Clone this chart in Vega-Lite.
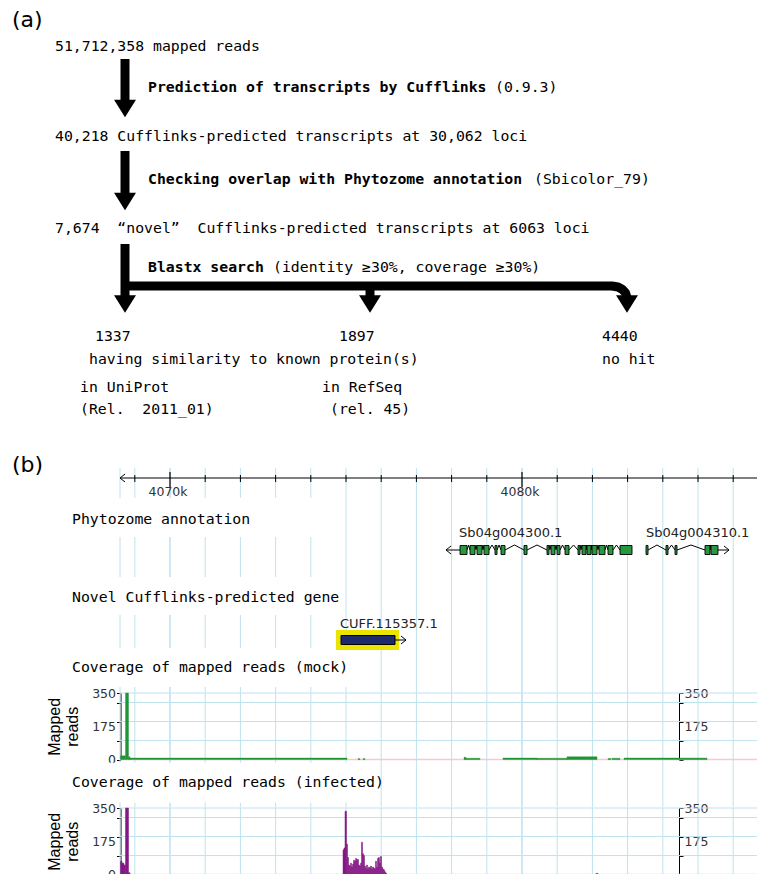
{
  "$schema": "https://vega.github.io/schema/vega-lite/v6.json",
  "background": "white",
  "padding": 0,
  "spacing": 0,
  "bounds": "flush",
  "resolve": {"scale": {"x": "independent", "y": "independent", "color": "independent"}},
  "config": {"view": {"stroke": null}},
  "datasets": {
    "ticks": [
      {"kb": 4068.58, "k": "border"}, {"kb": 4069, "k": "minor"}, {"kb": 4070, "k": "major"}, {"kb": 4071, "k": "minor"},
      {"kb": 4072, "k": "minor"}, {"kb": 4073, "k": "minor"}, {"kb": 4074, "k": "minor"}, {"kb": 4075, "k": "minor"},
      {"kb": 4076, "k": "minor"}, {"kb": 4077, "k": "minor"}, {"kb": 4078, "k": "minor"}, {"kb": 4079, "k": "minor"},
      {"kb": 4080, "k": "major"}, {"kb": 4081, "k": "minor"}, {"kb": 4082, "k": "minor"}, {"kb": 4083, "k": "minor"},
      {"kb": 4084, "k": "minor"}, {"kb": 4085, "k": "minor"}, {"kb": 4086, "k": "minor"}
    ],
    "hgrid": [{"r": 100}, {"r": 200}, {"r": 300}, {"r": 350}],
    "mock": [
      {"s": 4068.594, "e": 4068.736, "r": 20}, {"s": 4068.736, "e": 4068.821, "r": 350}, {"s": 4068.821, "e": 4068.864, "r": 15},
      {"s": 4068.864, "e": 4075.028, "r": 8}, {"s": 4075.341, "e": 4075.398, "r": 5}, {"s": 4075.483, "e": 4075.540, "r": 5},
      {"s": 4078.352, "e": 4078.409, "r": 12}, {"s": 4078.409, "e": 4078.807, "r": 7}, {"s": 4079.460, "e": 4080.426, "r": 8},
      {"s": 4080.426, "e": 4081.278, "r": 7}, {"s": 4081.278, "e": 4082.131, "r": 15}, {"s": 4082.443, "e": 4082.528, "r": 6},
      {"s": 4082.557, "e": 4082.784, "r": 7}, {"s": 4082.898, "e": 4084.432, "r": 8}, {"s": 4084.432, "e": 4085.256, "r": 8}
    ],
    "infected": [
      {"s": 4068.594, "e": 4068.636, "r": 70}, {"s": 4068.636, "e": 4068.693, "r": 60}, {"s": 4068.693, "e": 4068.736, "r": 50},
      {"s": 4068.736, "e": 4068.821, "r": 350}, {"s": 4068.821, "e": 4068.864, "r": 10},
      {"s": 4074.915, "e": 4074.943, "r": 130}, {"s": 4074.943, "e": 4074.972, "r": 140}, {"s": 4074.972, "e": 4075.014, "r": 333},
      {"s": 4075.014, "e": 4075.043, "r": 160}, {"s": 4075.043, "e": 4075.071, "r": 90}, {"s": 4075.071, "e": 4075.099, "r": 50},
      {"s": 4075.099, "e": 4075.128, "r": 45}, {"s": 4075.128, "e": 4075.156, "r": 60}, {"s": 4075.156, "e": 4075.185, "r": 40},
      {"s": 4075.185, "e": 4075.213, "r": 55}, {"s": 4075.213, "e": 4075.241, "r": 75}, {"s": 4075.241, "e": 4075.270, "r": 70},
      {"s": 4075.270, "e": 4075.298, "r": 85}, {"s": 4075.298, "e": 4075.327, "r": 78}, {"s": 4075.327, "e": 4075.355, "r": 80},
      {"s": 4075.355, "e": 4075.384, "r": 50}, {"s": 4075.384, "e": 4075.412, "r": 45}, {"s": 4075.412, "e": 4075.440, "r": 60},
      {"s": 4075.440, "e": 4075.469, "r": 170}, {"s": 4075.469, "e": 4075.497, "r": 110}, {"s": 4075.497, "e": 4075.526, "r": 100},
      {"s": 4075.526, "e": 4075.554, "r": 45}, {"s": 4075.554, "e": 4075.582, "r": 35}, {"s": 4075.582, "e": 4075.611, "r": 50},
      {"s": 4075.611, "e": 4075.639, "r": 30}, {"s": 4075.639, "e": 4075.668, "r": 40}, {"s": 4075.668, "e": 4075.696, "r": 35},
      {"s": 4075.696, "e": 4075.724, "r": 45}, {"s": 4075.724, "e": 4075.753, "r": 30}, {"s": 4075.753, "e": 4075.781, "r": 40},
      {"s": 4075.781, "e": 4075.810, "r": 35}, {"s": 4075.810, "e": 4075.838, "r": 30}, {"s": 4075.838, "e": 4075.866, "r": 70},
      {"s": 4075.866, "e": 4075.895, "r": 40}, {"s": 4075.895, "e": 4075.923, "r": 85}, {"s": 4075.923, "e": 4075.952, "r": 90},
      {"s": 4075.952, "e": 4075.980, "r": 60}, {"s": 4075.980, "e": 4076.009, "r": 95}, {"s": 4076.009, "e": 4076.037, "r": 40},
      {"s": 4076.037, "e": 4076.065, "r": 30}, {"s": 4076.065, "e": 4076.094, "r": 25}, {"s": 4076.094, "e": 4076.122, "r": 15},
      {"s": 4076.122, "e": 4076.151, "r": 8}, {"s": 4082.100, "e": 4082.160, "r": 6}
    ]
  },
  "vconcat": [
    {
      "width": 757,
      "height": 450,
      "layer": [
        {
          "data": {"values": [
            {"x": 125, "y": 59, "x2": 125, "y2": 100},
            {"x": 125, "y": 151, "x2": 125, "y2": 193},
            {"x": 125, "y": 244, "x2": 125, "y2": 297},
            {"x": 370, "y": 286, "x2": 370, "y2": 297}
          ]},
          "mark": {"type": "rule", "strokeWidth": 9, "color": "#000", "strokeCap": "butt"},
          "encoding": {
            "x": {"field": "x", "type": "quantitative", "scale": {"domain": [0, 757], "nice": false, "zero": false}, "axis": null},
            "y": {"field": "y", "type": "quantitative", "scale": {"domain": [0, 450], "reverse": true, "nice": false, "zero": false}, "axis": null},
            "x2": {"field": "x2"},
            "y2": {"field": "y2"}
          }
        },
        {
          "data": {"values": [
            {"o": 1, "x": 125, "y": 286}, {"o": 2, "x": 612, "y": 286}, {"o": 3, "x": 618, "y": 287},
            {"o": 4, "x": 622.5, "y": 289.5}, {"o": 5, "x": 625.6, "y": 293}, {"o": 6, "x": 627, "y": 297.5}, {"o": 7, "x": 627, "y": 299}
          ]},
          "mark": {"type": "line", "strokeWidth": 9, "color": "#000", "strokeCap": "butt", "strokeJoin": "round"},
          "encoding": {
            "x": {"field": "x", "type": "quantitative", "scale": {"domain": [0, 757], "nice": false, "zero": false}, "axis": null},
            "y": {"field": "y", "type": "quantitative", "scale": {"domain": [0, 450], "reverse": true, "nice": false, "zero": false}, "axis": null},
            "order": {"field": "o"}
          }
        },
        {
          "data": {"values": [
            {"x": 125, "y": 108.5}, {"x": 125, "y": 201.5}, {"x": 125, "y": 304}, {"x": 370, "y": 304}, {"x": 627, "y": 304}
          ]},
          "mark": {"type": "point", "shape": "M-1,-0.8L1,-0.8L0,0.8Z", "size": 484, "filled": true, "color": "#000", "opacity": 1},
          "encoding": {
            "x": {"field": "x", "type": "quantitative", "scale": {"domain": [0, 757], "nice": false, "zero": false}, "axis": null},
            "y": {"field": "y", "type": "quantitative", "scale": {"domain": [0, 450], "reverse": true, "nice": false, "zero": false}, "axis": null}
          }
        },
        {
          "data": {"values": [
            {"x": 55, "y": 47, "t": "51,712,358 mapped reads"},
            {"x": 495, "y": 88, "t": "(0.9.3)"},
            {"x": 55, "y": 137, "t": "40,218 Cufflinks-predicted transcripts at 30,062 loci"},
            {"x": 534, "y": 180, "t": "(Sbicolor_79)"},
            {"x": 55, "y": 229, "t": "7,674\u00a0\u00a0“novel”\u00a0\u00a0Cufflinks-predicted transcripts at 6063 loci"},
            {"x": 273, "y": 268, "t": "(identity ≥30%, coverage ≥30%)"},
            {"x": 95, "y": 337, "t": "1337"},
            {"x": 339, "y": 337, "t": "1897"},
            {"x": 602, "y": 337, "t": "4440"},
            {"x": 89, "y": 360, "t": "having similarity to known protein(s)"},
            {"x": 602, "y": 360, "t": "no hit"},
            {"x": 80, "y": 388, "t": "in UniProt"},
            {"x": 80, "y": 410, "t": "(Rel.\u00a0\u00a02011_01)"},
            {"x": 322, "y": 388, "t": "in RefSeq"},
            {"x": 330, "y": 410, "t": "(rel. 45)"}
          ]},
          "mark": {"type": "text", "align": "left", "baseline": "middle", "font": "DejaVu Sans Mono", "fontSize": 14.8, "color": "#000"},
          "encoding": {
            "x": {"field": "x", "type": "quantitative", "scale": {"domain": [0, 757], "nice": false, "zero": false}, "axis": null},
            "y": {"field": "y", "type": "quantitative", "scale": {"domain": [0, 450], "reverse": true, "nice": false, "zero": false}, "axis": null},
            "text": {"field": "t"}
          }
        },
        {
          "data": {"values": [
            {"x": 148, "y": 88, "t": "Prediction of transcripts by Cufflinks"},
            {"x": 148, "y": 180, "t": "Checking overlap with Phytozome annotation"},
            {"x": 148, "y": 268, "t": "Blastx search"}
          ]},
          "mark": {"type": "text", "align": "left", "baseline": "middle", "font": "DejaVu Sans Mono", "fontSize": 14.8, "fontWeight": "bold", "color": "#000"},
          "encoding": {
            "x": {"field": "x", "type": "quantitative", "scale": {"domain": [0, 757], "nice": false, "zero": false}, "axis": null},
            "y": {"field": "y", "type": "quantitative", "scale": {"domain": [0, 450], "reverse": true, "nice": false, "zero": false}, "axis": null},
            "text": {"field": "t"}
          }
        },
        {
          "data": {"values": [{"x": 12, "y": 20, "t": "(a)"}]},
          "mark": {"type": "text", "align": "left", "baseline": "middle", "font": "DejaVu Sans", "fontSize": 22, "color": "#000"},
          "encoding": {
            "x": {"field": "x", "type": "quantitative", "scale": {"domain": [0, 757], "nice": false, "zero": false}, "axis": null},
            "y": {"field": "y", "type": "quantitative", "scale": {"domain": [0, 450], "reverse": true, "nice": false, "zero": false}, "axis": null},
            "text": {"field": "t"}
          }
        }
      ]
    },
    {
      "width": 757,
      "height": 242.7,
      "layer": [
        {
          "data": {"name": "ticks"},
          "mark": {"type": "rule", "strokeWidth": 1},
          "encoding": {
            "x": {"field": "kb", "type": "quantitative", "scale": {"domain": [4065.17, 4086.676], "nice": false, "zero": false}, "axis": null},
            "y": {"datum": 468, "type": "quantitative", "scale": {"domain": [450, 692.7], "reverse": true, "nice": false, "zero": false}, "axis": null},
            "y2": {"datum": 692.7},
            "color": {"field": "k", "type": "nominal", "scale": {"domain": ["border", "minor", "major"], "range": ["#bfe3ec", "#bfe3ec", "#9fd0e8"]}, "legend": null}
          }
        },
        {
          "data": {"values": [
            {"s": 4068.011, "e": 4074.545, "t": 498, "b": 537},
            {"s": 4068.011, "e": 4074.545, "t": 577, "b": 615},
            {"s": 4068.011, "e": 4075.455, "t": 648, "b": 687}
          ]},
          "mark": {"type": "rect", "color": "#ffffff"},
          "encoding": {
            "x": {"field": "s", "type": "quantitative", "scale": {"domain": [4065.17, 4086.676], "nice": false, "zero": false}, "axis": null},
            "x2": {"field": "e"},
            "y": {"field": "t", "type": "quantitative", "scale": {"domain": [450, 692.7], "reverse": true, "nice": false, "zero": false}, "axis": null},
            "y2": {"field": "b"}
          }
        },
        {
          "data": {"values": [{}]},
          "mark": {"type": "rule", "color": "#000", "strokeWidth": 1},
          "encoding": {
            "x": {"datum": 4068.58, "type": "quantitative", "scale": {"domain": [4065.17, 4086.676], "nice": false, "zero": false}, "axis": null},
            "x2": {"datum": 4086.676},
            "y": {"datum": 478, "type": "quantitative", "scale": {"domain": [450, 692.7], "reverse": true, "nice": false, "zero": false}, "axis": null}
          }
        },
        {
          "data": {"name": "ticks"},
          "transform": [{"filter": "datum.k == 'minor'"}],
          "mark": {"type": "rule", "color": "#000", "strokeWidth": 1},
          "encoding": {
            "x": {"field": "kb", "type": "quantitative", "scale": {"domain": [4065.17, 4086.676], "nice": false, "zero": false}, "axis": null},
            "y": {"datum": 475, "type": "quantitative", "scale": {"domain": [450, 692.7], "reverse": true, "nice": false, "zero": false}, "axis": null},
            "y2": {"datum": 482}
          }
        },
        {
          "data": {"name": "ticks"},
          "transform": [{"filter": "datum.k == 'major'"}],
          "mark": {"type": "rule", "color": "#000", "strokeWidth": 1.2},
          "encoding": {
            "x": {"field": "kb", "type": "quantitative", "scale": {"domain": [4065.17, 4086.676], "nice": false, "zero": false}, "axis": null},
            "y": {"datum": 472, "type": "quantitative", "scale": {"domain": [450, 692.7], "reverse": true, "nice": false, "zero": false}, "axis": null},
            "y2": {"datum": 487}
          }
        },
        {
          "data": {"values": [{"kb": 4070, "t": "4070k"}, {"kb": 4080, "t": "4080k"}]},
          "mark": {"type": "text", "font": "DejaVu Sans", "fontSize": 12.5, "color": "#333", "align": "center", "baseline": "middle", "dx": -2},
          "encoding": {
            "x": {"field": "kb", "type": "quantitative", "scale": {"domain": [4065.17, 4086.676], "nice": false, "zero": false}, "axis": null},
            "y": {"datum": 492, "type": "quantitative", "scale": {"domain": [450, 692.7], "reverse": true, "nice": false, "zero": false}, "axis": null},
            "text": {"field": "t"}
          }
        },
        {
          "data": {"values": [{}]},
          "mark": {"type": "point", "shape": "M0.5,-0.8L-0.5,0L0.5,0.8", "size": 100, "filled": false, "color": "#000", "strokeWidth": 1, "opacity": 1},
          "encoding": {
            "x": {"datum": 4068.651, "type": "quantitative", "scale": {"domain": [4065.17, 4086.676], "nice": false, "zero": false}, "axis": null},
            "y": {"datum": 478, "type": "quantitative", "scale": {"domain": [450, 692.7], "reverse": true, "nice": false, "zero": false}, "axis": null}
          }
        },
        {
          "data": {"values": [
            {"s": 4078.438, "p": 4078.480, "e": 4078.523}, {"s": 4078.665, "p": 4078.693, "e": 4078.722},
            {"s": 4078.864, "p": 4078.892, "e": 4078.920}, {"s": 4079.063, "p": 4079.148, "e": 4079.233},
            {"s": 4079.290, "p": 4079.347, "e": 4079.403}, {"s": 4079.517, "p": 4079.787, "e": 4080.057},
            {"s": 4080.142, "p": 4080.426, "e": 4080.710}, {"s": 4080.767, "p": 4080.795, "e": 4080.824},
            {"s": 4080.938, "p": 4080.966, "e": 4080.994}, {"s": 4081.080, "p": 4081.151, "e": 4081.222},
            {"s": 4081.335, "p": 4081.463, "e": 4081.591}, {"s": 4081.648, "p": 4081.676, "e": 4081.705},
            {"s": 4081.818, "p": 4081.832, "e": 4081.847}, {"s": 4081.960, "p": 4081.974, "e": 4081.989},
            {"s": 4082.131, "p": 4082.159, "e": 4082.188}, {"s": 4082.358, "p": 4082.400, "e": 4082.443},
            {"s": 4082.585, "p": 4082.684, "e": 4082.784},
            {"s": 4083.580, "p": 4083.835, "e": 4084.091}, {"s": 4084.148, "p": 4084.247, "e": 4084.347},
            {"s": 4084.403, "p": 4084.801, "e": 4085.199}, {"s": 4085.341, "p": 4085.355, "e": 4085.369}
          ]},
          "layer": [
            {
              "mark": {"type": "rule", "color": "#000", "strokeWidth": 1},
              "encoding": {
                "x": {"field": "s", "type": "quantitative", "scale": {"domain": [4065.17, 4086.676], "nice": false, "zero": false}, "axis": null},
                "x2": {"field": "p"},
                "y": {"datum": 550, "type": "quantitative", "scale": {"domain": [450, 692.7], "reverse": true, "nice": false, "zero": false}, "axis": null},
                "y2": {"datum": 545}
              }
            },
            {
              "mark": {"type": "rule", "color": "#000", "strokeWidth": 1},
              "encoding": {
                "x": {"field": "p", "type": "quantitative", "scale": {"domain": [4065.17, 4086.676], "nice": false, "zero": false}, "axis": null},
                "x2": {"field": "e"},
                "y": {"datum": 545, "type": "quantitative", "scale": {"domain": [450, 692.7], "reverse": true, "nice": false, "zero": false}, "axis": null},
                "y2": {"datum": 550}
              }
            }
          ]
        },
        {
          "data": {"values": [{"s": 4077.841, "e": 4078.239}, {"s": 4085.568, "e": 4085.881}]},
          "mark": {"type": "rule", "color": "#000", "strokeWidth": 1},
          "encoding": {
            "x": {"field": "s", "type": "quantitative", "scale": {"domain": [4065.17, 4086.676], "nice": false, "zero": false}, "axis": null},
            "x2": {"field": "e"},
            "y": {"datum": 550, "type": "quantitative", "scale": {"domain": [450, 692.7], "reverse": true, "nice": false, "zero": false}, "axis": null}
          }
        },
        {
          "data": {"values": [
            {"s": 4078.239, "e": 4078.438}, {"s": 4078.523, "e": 4078.665}, {"s": 4078.722, "e": 4078.864},
            {"s": 4078.920, "e": 4079.063}, {"s": 4079.233, "e": 4079.290}, {"s": 4079.403, "e": 4079.517},
            {"s": 4080.057, "e": 4080.142}, {"s": 4080.710, "e": 4080.767}, {"s": 4080.824, "e": 4080.938},
            {"s": 4080.994, "e": 4081.080}, {"s": 4081.222, "e": 4081.335}, {"s": 4081.591, "e": 4081.648},
            {"s": 4081.705, "e": 4081.818}, {"s": 4081.847, "e": 4081.960}, {"s": 4081.989, "e": 4082.131},
            {"s": 4082.188, "e": 4082.358}, {"s": 4082.443, "e": 4082.585}, {"s": 4082.784, "e": 4083.125},
            {"s": 4083.523, "e": 4083.580}, {"s": 4084.091, "e": 4084.148}, {"s": 4084.347, "e": 4084.403},
            {"s": 4085.199, "e": 4085.341}, {"s": 4085.369, "e": 4085.568}
          ]},
          "mark": {"type": "rect", "fill": "#27983f", "stroke": "#000", "strokeWidth": 0.9},
          "encoding": {
            "x": {"field": "s", "type": "quantitative", "scale": {"domain": [4065.17, 4086.676], "nice": false, "zero": false}, "axis": null},
            "x2": {"field": "e"},
            "y": {"datum": 545.5, "type": "quantitative", "scale": {"domain": [450, 692.7], "reverse": true, "nice": false, "zero": false}, "axis": null},
            "y2": {"datum": 554.5}
          }
        },
        {
          "data": {"values": [{"kb": 4077.912}]},
          "mark": {"type": "point", "shape": "M0.5,-0.8L-0.5,0L0.5,0.8", "size": 100, "filled": false, "color": "#000", "strokeWidth": 1, "opacity": 1},
          "encoding": {
            "x": {"field": "kb", "type": "quantitative", "scale": {"domain": [4065.17, 4086.676], "nice": false, "zero": false}, "axis": null},
            "y": {"datum": 550, "type": "quantitative", "scale": {"domain": [450, 692.7], "reverse": true, "nice": false, "zero": false}, "axis": null}
          }
        },
        {
          "data": {"values": [{"kb": 4085.810}]},
          "mark": {"type": "point", "shape": "M-0.5,-0.8L0.5,0L-0.5,0.8", "size": 100, "filled": false, "color": "#000", "strokeWidth": 1, "opacity": 1},
          "encoding": {
            "x": {"field": "kb", "type": "quantitative", "scale": {"domain": [4065.17, 4086.676], "nice": false, "zero": false}, "axis": null},
            "y": {"datum": 550, "type": "quantitative", "scale": {"domain": [450, 692.7], "reverse": true, "nice": false, "zero": false}, "axis": null}
          }
        },
        {
          "data": {"values": [{"s": 4074.716, "e": 4076.506}]},
          "mark": {"type": "rect", "fill": "#e9e400"},
          "encoding": {
            "x": {"field": "s", "type": "quantitative", "scale": {"domain": [4065.17, 4086.676], "nice": false, "zero": false}, "axis": null},
            "x2": {"field": "e"},
            "y": {"datum": 630, "type": "quantitative", "scale": {"domain": [450, 692.7], "reverse": true, "nice": false, "zero": false}, "axis": null},
            "y2": {"datum": 650}
          }
        },
        {
          "data": {"values": [{"s": 4076.392, "e": 4076.705}]},
          "mark": {"type": "rule", "color": "#000", "strokeWidth": 1},
          "encoding": {
            "x": {"field": "s", "type": "quantitative", "scale": {"domain": [4065.17, 4086.676], "nice": false, "zero": false}, "axis": null},
            "x2": {"field": "e"},
            "y": {"datum": 640, "type": "quantitative", "scale": {"domain": [450, 692.7], "reverse": true, "nice": false, "zero": false}, "axis": null}
          }
        },
        {
          "data": {"values": [{"s": 4074.858, "e": 4076.392}]},
          "mark": {"type": "rect", "fill": "#1c2a6b", "stroke": "#000", "strokeWidth": 1},
          "encoding": {
            "x": {"field": "s", "type": "quantitative", "scale": {"domain": [4065.17, 4086.676], "nice": false, "zero": false}, "axis": null},
            "x2": {"field": "e"},
            "y": {"datum": 635.5, "type": "quantitative", "scale": {"domain": [450, 692.7], "reverse": true, "nice": false, "zero": false}, "axis": null},
            "y2": {"datum": 644.5}
          }
        },
        {
          "data": {"values": [{"kb": 4076.634}]},
          "mark": {"type": "point", "shape": "M-0.5,-0.8L0.5,0L-0.5,0.8", "size": 100, "filled": false, "color": "#000", "strokeWidth": 1, "opacity": 1},
          "encoding": {
            "x": {"field": "kb", "type": "quantitative", "scale": {"domain": [4065.17, 4086.676], "nice": false, "zero": false}, "axis": null},
            "y": {"datum": 640, "type": "quantitative", "scale": {"domain": [450, 692.7], "reverse": true, "nice": false, "zero": false}, "axis": null}
          }
        },
        {
          "data": {"values": [
            {"kb": 4078.21, "y": 533, "t": "Sb04g004300.1"},
            {"kb": 4083.523, "y": 533, "t": "Sb04g004310.1"},
            {"kb": 4074.83, "y": 624, "t": "CUFF.115357.1"}
          ]},
          "mark": {"type": "text", "font": "DejaVu Sans", "fontSize": 13, "color": "#222", "align": "left", "baseline": "middle"},
          "encoding": {
            "x": {"field": "kb", "type": "quantitative", "scale": {"domain": [4065.17, 4086.676], "nice": false, "zero": false}, "axis": null},
            "y": {"field": "y", "type": "quantitative", "scale": {"domain": [450, 692.7], "reverse": true, "nice": false, "zero": false}, "axis": null},
            "text": {"field": "t"}
          }
        },
        {
          "data": {"values": [
            {"kb": 4067.216, "y": 520, "t": "Phytozome annotation"},
            {"kb": 4067.216, "y": 598, "t": "Novel Cufflinks-predicted gene"},
            {"kb": 4067.216, "y": 668, "t": "Coverage of mapped reads (mock)"}
          ]},
          "mark": {"type": "text", "font": "DejaVu Sans Mono", "fontSize": 14.8, "color": "#000", "align": "left", "baseline": "middle"},
          "encoding": {
            "x": {"field": "kb", "type": "quantitative", "scale": {"domain": [4065.17, 4086.676], "nice": false, "zero": false}, "axis": null},
            "y": {"field": "y", "type": "quantitative", "scale": {"domain": [450, 692.7], "reverse": true, "nice": false, "zero": false}, "axis": null},
            "text": {"field": "t"}
          }
        },
        {
          "data": {"values": [{"kb": 4065.511, "y": 465, "t": "(b)"}]},
          "mark": {"type": "text", "font": "DejaVu Sans", "fontSize": 22, "color": "#000", "align": "left", "baseline": "middle"},
          "encoding": {
            "x": {"field": "kb", "type": "quantitative", "scale": {"domain": [4065.17, 4086.676], "nice": false, "zero": false}, "axis": null},
            "y": {"field": "y", "type": "quantitative", "scale": {"domain": [450, 692.7], "reverse": true, "nice": false, "zero": false}, "axis": null},
            "text": {"field": "t"}
          }
        }
      ]
    },
    {
      "width": 757,
      "height": 66.6,
      "resolve": {"axis": {"y": "independent"}},
      "layer": [
        {
          "data": {"name": "ticks"},
          "mark": {"type": "rule", "strokeWidth": 1},
          "encoding": {
            "x": {"field": "kb", "type": "quantitative", "scale": {"domain": [4065.17, 4086.676], "nice": false, "zero": false}, "axis": null},
            "y": {"datum": 0, "type": "quantitative", "scale": {"domain": [0, 350], "nice": false, "zero": false}, "axis": null},
            "y2": {"datum": 350},
            "color": {"field": "k", "type": "nominal", "scale": {"domain": ["border", "minor", "major"], "range": ["#bfe3ec", "#bfe3ec", "#9fd0e8"]}, "legend": null}
          }
        },
        {
          "data": {"name": "hgrid"},
          "mark": {"type": "rule", "color": "#bfe3ec", "strokeWidth": 1},
          "encoding": {
            "x": {"datum": 4068.58, "type": "quantitative", "scale": {"domain": [4065.17, 4086.676], "nice": false, "zero": false}, "axis": null},
            "x2": {"datum": 4086.676},
            "y": {"field": "r", "type": "quantitative", "scale": {"domain": [0, 350], "nice": false, "zero": false},
              "axis": {"orient": "right", "offset": -78, "values": [0, 100, 175, 200, 300, 350],
                "labelExpr": "datum.value == 175 || datum.value == 350 ? datum.label : ''",
                "tickOpacity": {"condition": {"test": "datum.value == 175", "value": 0}, "value": 1},
                "grid": false, "title": null, "domainColor": "#000", "tickColor": "#000", "tickSize": 4,
                "labelFont": "DejaVu Sans", "labelFontSize": 12.5, "labelColor": "#333", "labelPadding": 1,
                "labelOverlap": false, "labelFlush": false}}
          }
        },
        {
          "data": {"values": [{}]},
          "mark": {"type": "rule", "color": "#f5c8d2", "strokeWidth": 1.5},
          "encoding": {
            "x": {"datum": 4068.58, "type": "quantitative", "scale": {"domain": [4065.17, 4086.676], "nice": false, "zero": false}, "axis": null},
            "x2": {"datum": 4086.676},
            "y": {"datum": 0, "type": "quantitative", "scale": {"domain": [0, 350], "nice": false, "zero": false}, "axis": null}
          }
        },
        {
          "data": {"name": "mock"},
          "mark": {"type": "rect", "color": "#1f9636", "stroke": "#1f9636", "strokeWidth": 0.4},
          "encoding": {
            "x": {"field": "s", "type": "quantitative", "scale": {"domain": [4065.17, 4086.676], "nice": false, "zero": false}, "axis": null},
            "x2": {"field": "e"},
            "y": {"field": "r", "type": "quantitative", "scale": {"domain": [0, 350], "nice": false, "zero": false},
              "axis": {"orient": "left", "offset": -120.5, "values": [0, 100, 175, 200, 300, 350],
                "labelExpr": "datum.value == 0 || datum.value == 175 || datum.value == 350 ? datum.label : ''",
                "tickOpacity": {"condition": {"test": "datum.value == 175", "value": 0}, "value": 1},
                "grid": false, "domainColor": "#000", "tickColor": "#000", "tickSize": 4,
                "labelFont": "DejaVu Sans", "labelFontSize": 12.5, "labelColor": "#333", "labelPadding": 1,
                "labelOverlap": false, "labelFlush": false,
                "title": ["Mapped", "reads"], "titleX": -66, "titleY": 33.3, "titleAngle": -90, "titleAlign": "center",
                "titleBaseline": "middle", "titleFont": "Liberation Sans", "titleFontSize": 16, "titleFontWeight": "normal",
                "titleColor": "#000", "titleLineHeight": 18}},
            "y2": {"datum": 0}
          }
        }
      ]
    },
    {
      "width": 757,
      "height": 47.4,
      "layer": [
        {
          "data": {"name": "ticks"},
          "mark": {"type": "rule", "strokeWidth": 1},
          "encoding": {
            "x": {"field": "kb", "type": "quantitative", "scale": {"domain": [4065.17, 4086.676], "nice": false, "zero": false}, "axis": null},
            "y": {"datum": 759.3, "type": "quantitative", "scale": {"domain": [759.3, 806.7], "reverse": true, "nice": false, "zero": false}, "axis": null},
            "y2": {"datum": 806.7},
            "color": {"field": "k", "type": "nominal", "scale": {"domain": ["border", "minor", "major"], "range": ["#bfe3ec", "#bfe3ec", "#9fd0e8"]}, "legend": null}
          }
        },
        {
          "data": {"values": [{"s": 4068.011, "e": 4075.909, "t": 762, "b": 802}]},
          "mark": {"type": "rect", "color": "#ffffff"},
          "encoding": {
            "x": {"field": "s", "type": "quantitative", "scale": {"domain": [4065.17, 4086.676], "nice": false, "zero": false}, "axis": null},
            "x2": {"field": "e"},
            "y": {"field": "t", "type": "quantitative", "scale": {"domain": [759.3, 806.7], "reverse": true, "nice": false, "zero": false}, "axis": null},
            "y2": {"field": "b"}
          }
        },
        {
          "data": {"values": [{"kb": 4067.216, "y": 782, "t": "Coverage of mapped reads (infected)"}]},
          "mark": {"type": "text", "font": "DejaVu Sans Mono", "fontSize": 14.8, "color": "#000", "align": "left", "baseline": "middle"},
          "encoding": {
            "x": {"field": "kb", "type": "quantitative", "scale": {"domain": [4065.17, 4086.676], "nice": false, "zero": false}, "axis": null},
            "y": {"field": "y", "type": "quantitative", "scale": {"domain": [759.3, 806.7], "reverse": true, "nice": false, "zero": false}, "axis": null},
            "text": {"field": "t"}
          }
        }
      ]
    },
    {
      "width": 757,
      "height": 66.6,
      "resolve": {"axis": {"y": "independent"}},
      "layer": [
        {
          "data": {"name": "ticks"},
          "mark": {"type": "rule", "strokeWidth": 1},
          "encoding": {
            "x": {"field": "kb", "type": "quantitative", "scale": {"domain": [4065.17, 4086.676], "nice": false, "zero": false}, "axis": null},
            "y": {"datum": 0, "type": "quantitative", "scale": {"domain": [0, 350], "nice": false, "zero": false}, "axis": null},
            "y2": {"datum": 350},
            "color": {"field": "k", "type": "nominal", "scale": {"domain": ["border", "minor", "major"], "range": ["#bfe3ec", "#bfe3ec", "#9fd0e8"]}, "legend": null}
          }
        },
        {
          "data": {"name": "hgrid"},
          "mark": {"type": "rule", "color": "#bfe3ec", "strokeWidth": 1},
          "encoding": {
            "x": {"datum": 4068.58, "type": "quantitative", "scale": {"domain": [4065.17, 4086.676], "nice": false, "zero": false}, "axis": null},
            "x2": {"datum": 4086.676},
            "y": {"field": "r", "type": "quantitative", "scale": {"domain": [0, 350], "nice": false, "zero": false},
              "axis": {"orient": "right", "offset": -78, "values": [0, 100, 175, 200, 300, 350],
                "labelExpr": "datum.value == 175 || datum.value == 350 ? datum.label : ''",
                "tickOpacity": {"condition": {"test": "datum.value == 175", "value": 0}, "value": 1},
                "grid": false, "title": null, "domainColor": "#000", "tickColor": "#000", "tickSize": 4,
                "labelFont": "DejaVu Sans", "labelFontSize": 12.5, "labelColor": "#333", "labelPadding": 1,
                "labelOverlap": false, "labelFlush": false}}
          }
        },
        {
          "data": {"values": [{}]},
          "mark": {"type": "rule", "color": "#f5c8d2", "strokeWidth": 1.5},
          "encoding": {
            "x": {"datum": 4068.58, "type": "quantitative", "scale": {"domain": [4065.17, 4086.676], "nice": false, "zero": false}, "axis": null},
            "x2": {"datum": 4086.676},
            "y": {"datum": 0, "type": "quantitative", "scale": {"domain": [0, 350], "nice": false, "zero": false}, "axis": null}
          }
        },
        {
          "data": {"name": "infected"},
          "mark": {"type": "rect", "color": "#841884", "stroke": "#841884", "strokeWidth": 0.5},
          "encoding": {
            "x": {"field": "s", "type": "quantitative", "scale": {"domain": [4065.17, 4086.676], "nice": false, "zero": false}, "axis": null},
            "x2": {"field": "e"},
            "y": {"field": "r", "type": "quantitative", "scale": {"domain": [0, 350], "nice": false, "zero": false},
              "axis": {"orient": "left", "offset": -120.5, "values": [0, 100, 175, 200, 300, 350],
                "labelExpr": "datum.value == 0 || datum.value == 175 || datum.value == 350 ? datum.label : ''",
                "tickOpacity": {"condition": {"test": "datum.value == 175", "value": 0}, "value": 1},
                "grid": false, "domainColor": "#000", "tickColor": "#000", "tickSize": 4,
                "labelFont": "DejaVu Sans", "labelFontSize": 12.5, "labelColor": "#333", "labelPadding": 1,
                "labelOverlap": false, "labelFlush": false,
                "title": ["Mapped", "reads"], "titleX": -66, "titleY": 33.3, "titleAngle": -90, "titleAlign": "center",
                "titleBaseline": "middle", "titleFont": "Liberation Sans", "titleFontSize": 16, "titleFontWeight": "normal",
                "titleColor": "#000", "titleLineHeight": 18}},
            "y2": {"datum": 0}
          }
        }
      ]
    }
  ]
}
